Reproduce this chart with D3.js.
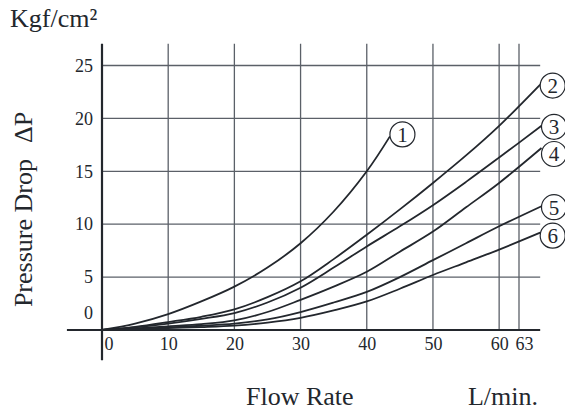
<!DOCTYPE html>
<html>
<head>
<meta charset="utf-8">
<script src="https://cdn.jsdelivr.net/npm/d3@7/dist/d3.min.js"></script>
<style>
  html, body { margin: 0; padding: 0; background: #fff; }
  svg { display: block; }
  text { font-family: "Liberation Serif", "Times New Roman", serif; fill: #23272d; }
</style>
</head>
<body>
<svg id="chart" width="565" height="413"></svg>
<script>
// ---- data ----
const xTicks = [0, 10, 20, 30, 40, 50, 60, 63];
const yTicks = [0, 5, 10, 15, 20, 25];
const curveLabels = ["1", "2", "3", "4", "5", "6"];

const series1 = [[0,0],[5,0.6],[10,1.5],[15,2.7],[20,4.1],[25,5.9],[30,8.2],[35,11.2],[40,15.0],[43.5,18.3]];
const series2 = [[0,0],[5,0.3],[10,0.75],[15,1.25],[20,1.95],[25,3.1],[30,4.6],[35,6.7],[40,9.0],[45,11.4],[50,13.9],[55,16.5],[60,19.3],[66.2,23.2]];
const series3 = [[0,0],[5,0.25],[10,0.6],[15,1.05],[20,1.6],[25,2.6],[30,4.0],[35,5.9],[40,7.9],[45,9.8],[50,11.8],[55,14.0],[60,16.3],[66.4,19.3]];
const series4 = [[0,0],[5,0.15],[10,0.35],[15,0.55],[20,0.9],[25,1.7],[30,2.85],[35,4.1],[40,5.5],[45,7.4],[50,9.3],[55,11.6],[60,13.9],[66.4,17.2]];
const series5 = [[0,0],[5,0.1],[10,0.25],[15,0.4],[20,0.6],[25,1.0],[30,1.7],[35,2.6],[40,3.6],[45,5.0],[50,6.6],[55,8.2],[60,9.8],[66.4,11.7]];
const series6 = [[0,0],[5,0.07],[10,0.18],[15,0.28],[20,0.42],[25,0.7],[30,1.15],[35,1.85],[40,2.7],[45,3.9],[50,5.2],[55,6.4],[60,7.6],[66.2,9.2]];
const allSeries = [series1, series2, series3, series4, series5, series6];

// ---- layout ----
const svg = d3.select("#chart");
const x = d3.scaleLinear().domain([0, 63]).range([102, 519]);
const y = d3.scaleLinear().domain([0, 25]).range([330, 65.5]);
const gridRight = 66.2, gridTop = 27.05;
const axisLeftX = -5.3, axisBottomY = -2.85;

const ink = "#23272d";
const gridCol = "#5b6068";

// grid
const grid = svg.append("g");
grid.selectAll("line.h").data(yTicks.filter(d => d > 0)).join("line")
  .attr("x1", x(0)).attr("x2", x(gridRight))
  .attr("y1", d => y(d)).attr("y2", d => y(d))
  .attr("stroke", gridCol).attr("stroke-width", 1.3);
grid.selectAll("line.v").data(xTicks.filter(d => d > 0)).join("line")
  .attr("x1", d => x(d)).attr("x2", d => x(d))
  .attr("y1", y(0)).attr("y2", y(gridTop))
  .attr("stroke", gridCol).attr("stroke-width", 1.3);

// axis lines
svg.append("line").attr("x1", x(axisLeftX)).attr("x2", x(gridRight))
  .attr("y1", y(0)).attr("y2", y(0)).attr("stroke", ink).attr("stroke-width", 2.2);
svg.append("line").attr("x1", x(0)).attr("x2", x(0))
  .attr("y1", y(gridTop)).attr("y2", y(axisBottomY)).attr("stroke", ink).attr("stroke-width", 2.2);

// x tick labels
const gx = svg.append("g").attr("transform", `translate(0,${y(0)})`)
  .call(d3.axisBottom(x).tickValues(xTicks).tickSize(0).tickPadding(7).tickFormat(d3.format("d")));
gx.select(".domain").remove();
gx.selectAll("text").attr("font-family", null).style("font-size", "18px").attr("fill", ink);
gx.selectAll(".tick").filter(d => d === 0).select("text").attr("text-anchor", "start").attr("x", 2);
gx.selectAll(".tick").filter(d => d === 63).select("text").attr("x", 5);

// y tick labels
const gy = svg.append("g").attr("transform", `translate(${x(0)},0)`)
  .call(d3.axisLeft(y).tickValues(yTicks).tickSize(0).tickPadding(9).tickFormat(d3.format("d")));
gy.select(".domain").remove();
gy.selectAll("text").attr("font-family", null).style("font-size", "18px").attr("fill", ink);
gy.selectAll(".tick").filter(d => d === 0).select("text").attr("y", -17);

// curves
const line = d3.line().x(d => x(d[0])).y(d => y(d[1])).curve(d3.curveCatmullRom.alpha(0.5));
svg.append("g").selectAll("path").data(allSeries).join("path")
  .attr("d", line).attr("fill", "none").attr("stroke", ink).attr("stroke-width", 1.8);

// circled labels (circle sits just right of each curve's end)
const labelShift = (i) => (i === 0 ? -2 : i === 3 ? 6 : i === 5 ? 3 : 1);
const lab = svg.append("g").selectAll("g").data(allSeries).join("g")
  .attr("transform", (s, i) => {
    const last = s[s.length - 1];
    return `translate(${x(last[0]) + 12.5},${y(last[1]) + labelShift(i)})`;
  });
lab.append("circle").attr("r", 12.5).attr("fill", "#fff").attr("stroke", ink).attr("stroke-width", 1.2);
lab.append("text").text((s, i) => curveLabels[i]).attr("text-anchor", "middle")
  .attr("dy", "0.35em").style("font-size", "21px");

// titles
svg.append("text").attr("x", 10).attr("y", 27).style("font-size", "26px").text("Kgf/cm²");
svg.append("text").attr("x", 246).attr("y", 405).style("font-size", "26px").text("Flow Rate");
svg.append("text").attr("x", 538).attr("y", 405).attr("text-anchor", "end").style("font-size", "26px").text("L/min.");
const yt = svg.append("text").attr("transform", "translate(32,209.5) rotate(-90)")
  .attr("text-anchor", "middle").style("font-size", "26px");
yt.append("tspan").text("Pressure Drop");
yt.append("tspan").attr("dx", 16).text("ΔP");
</script>
</body>
</html>
